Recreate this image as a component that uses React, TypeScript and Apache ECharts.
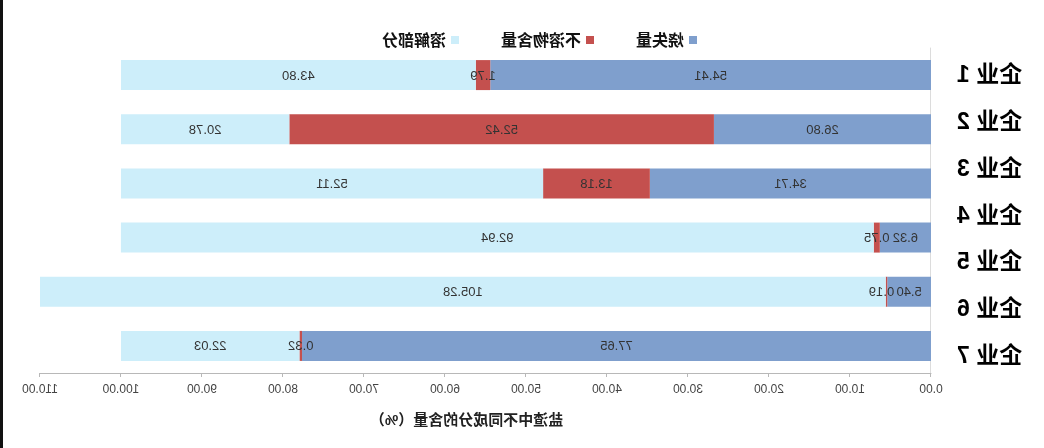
import React, { useEffect, useRef } from "react";
import * as echarts from "echarts";

const categories = ["企业 1", "企业 2", "企业 3", "企业 4", "企业 5", "企业 6", "企业 7"];
const barCategories = ["企业 1", "企业 2", "企业 3", "企业 4", "企业 5", "企业 6"];
const seriesNames = ["烧失量", "不溶物含量", "溶解部分"];
const lossOnIgnition = [54.41, 26.8, 34.71, 6.32, 5.4, 77.65];
const insoluble = [1.79, 52.42, 13.18, 0.75, 0.19, 0.32];
const dissolved = [43.8, 20.78, 52.11, 92.94, 105.28, 22.03];
const axisTitle = "盐渣中不同成分的含量（%）";

const colors = ["#7f9fcd", "#c4504e", "#cdeefa"];
const FONT = "'Liberation Sans', Arial, 'Noto Sans CJK SC', sans-serif";

export default function App() {
  const ref = useRef<HTMLDivElement>(null);
  useEffect(() => {
    if (!ref.current) return;
    const chart = echarts.init(ref.current, undefined, { renderer: "svg" });
    const values = [lossOnIgnition, insoluble, dissolved];
    chart.setOption({
      animation: false,
      backgroundColor: "#ffffff",
      textStyle: { fontFamily: FONT },
      legend: {
        left: 342,
        top: 27,
        itemWidth: 8,
        itemHeight: 8,
        itemGap: 42,
        icon: "rect",
        data: seriesNames,
        textStyle: { fontSize: 16, fontWeight: "bold", color: "#111", fontFamily: FONT },
      },
      grid: [
        { left: 113, right: 40, top: 48, bottom: 75 },
        { left: 113, right: 40, top: 51, bottom: 70 },
      ],
      xAxis: [
        {
          gridIndex: 0,
          type: "value",
          min: 0,
          max: 110,
          interval: 10,
          splitLine: { show: false },
          axisLine: { show: true, lineStyle: { color: "#b8b8b8" } },
          axisTick: { show: true, length: 4, lineStyle: { color: "#b8b8b8" } },
          axisLabel: {
            margin: 10,
            fontSize: 12,
            color: "#444",
            formatter: (v: number) => v.toFixed(2),
          },
          name: axisTitle,
          nameLocation: "middle",
          nameGap: 39,
          nameTextStyle: {
            fontSize: 15,
            fontWeight: "bold",
            color: "#222",
            padding: [0, 0, 0, 38],
            fontFamily: FONT,
          },
        },
        { gridIndex: 1, type: "value", show: false, min: 0, max: 110 },
      ],
      yAxis: [
        {
          gridIndex: 0,
          type: "category",
          inverse: true,
          data: barCategories,
          axisLabel: { show: false },
          axisTick: { show: false },
          axisLine: { show: true, lineStyle: { color: "#dcdcdc" } },
        },
        {
          gridIndex: 1,
          type: "category",
          inverse: true,
          data: categories,
          axisLine: { show: false },
          axisTick: { show: false },
          axisLabel: {
            margin: 26,
            fontSize: 23,
            fontWeight: "bold",
            color: "#000",
            fontFamily: FONT,
          },
        },
      ],
      series: seriesNames.map((name, i) => ({
        name,
        type: "bar",
        stack: "total",
        xAxisIndex: 0,
        yAxisIndex: 0,
        barWidth: 30,
        itemStyle: { color: colors[i] },
        label: {
          show: true,
          position: "inside",
          fontSize: 13,
          color: "#333",
          formatter: (p: any) => Number(p.value).toFixed(2),
        },
        data: values[i].map((v, j) =>
          i === 1 && j === 4 ? { value: v, label: { offset: [5, 0] } } : v
        ),
      })),
      graphic: [
        {
          type: "rect",
          shape: { x: 1041, y: 0, width: 3, height: 448 },
          style: { fill: "#111" },
        },
      ],
    });
    return () => chart.dispose();
  }, []);
  return (
    <div
      ref={ref}
      style={{
        position: "fixed",
        left: 0,
        top: 0,
        width: 1044,
        height: 448,
        transform: "scaleX(-1)",
      }}
    />
  );
}
